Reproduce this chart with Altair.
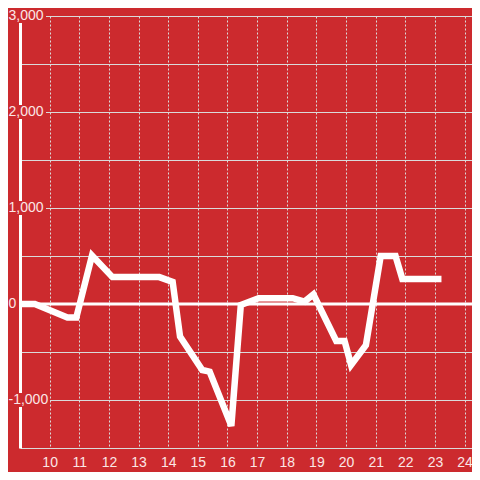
import altair as alt
import pandas as pd

# line data (hour of day, value)
hours = [9.0, 9.5, 10.6, 10.9, 11.43, 12.12, 13.7, 14.15, 14.4, 15.15, 15.4, 16.13,
         16.45, 17.05, 18.2, 18.6, 18.9, 19.67, 19.95, 20.17, 20.67, 21.17, 21.67,
         21.9, 23.22]
values = [0, 0, -140, -140, 505, 280, 280, 230, -340, -688, -705, -1270,
          -10, 60, 60, 25, 100, -385, -385, -635, -430, 500, 500,
          260, 260]

x_ticks = list(range(10, 25))
y_grid = list(range(-1500, 3001, 500))
y_label_values = [-1000, 0, 1000, 2000, 3000]
y_label_texts = ["-1,000", "0", "1,000", "2,000", "3,000"]

BG = "#cc2a2e"
GRID = "#dadada"
LABEL = "#fbe6e6"
FONT = "Liberation Sans"

line_df = pd.DataFrame({"hour": hours, "value": values})
lab_df = pd.DataFrame({"v": y_label_values, "lab": y_label_texts})

xscale = alt.Scale(domain=[9, 24.25], nice=False, zero=False)
yscale = alt.Scale(domain=[-1500, 3000], nice=False, zero=False)

y_axis = alt.Axis(values=y_grid, grid=True, gridColor=GRID, gridWidth=1,
                  labels=False, ticks=False, domain=True, domainColor="white",
                  domainWidth=3, title=None)

base_line = alt.Chart(line_df).mark_line(
    color="white", strokeWidth=6.5, strokeJoin="miter", strokeCap="butt"
).encode(
    x=alt.X("hour:Q", scale=xscale,
            axis=alt.Axis(values=x_ticks, grid=True, gridDash=[2, 2], gridColor=GRID,
                          gridWidth=1, ticks=False, domain=False, labelPadding=7,
                          labelFontSize=14, labelColor=LABEL, labelFont=FONT,
                          title=None, labelFlush=False)),
    y=alt.Y("value:Q", scale=yscale, axis=y_axis),
)

zero_rule = alt.Chart(pd.DataFrame({"z": [0]})).mark_rule(
    color="white", strokeWidth=3
).encode(y=alt.Y("z:Q", scale=yscale, axis=y_axis))

def mask(filter_expr, x1, x2):
    return alt.Chart(lab_df).transform_filter(filter_expr).mark_rect(
        color=BG, yOffset=-7, y2Offset=7
    ).encode(
        y=alt.Y("v:Q", scale=yscale, axis=y_axis),
        y2="v:Q",
        x=alt.value(x1),
        x2=alt.value(x2),
    )

mask_zero = mask("datum.v == 0", -14, -2)
mask_pos = mask("datum.v > 0", -14, 26)
mask_neg = mask("datum.v < 0", -14, 30)

labels = alt.Chart(lab_df).mark_text(
    align="left", baseline="middle", fontSize=14, font=FONT, color=LABEL
).encode(
    x=alt.value(-11.5),
    y=alt.Y("v:Q", scale=yscale, axis=y_axis),
    text="lab:N",
)

chart = alt.layer(base_line, zero_rule, mask_zero, mask_pos, mask_neg, labels).properties(
    width=452, height=432,
    padding={"left": 12, "top": 8, "right": 0, "bottom": 24},
    autosize=alt.AutoSizeParams(type="none"),
    background=BG,
).configure_view(stroke=None)

chart.save("out.html", embed_options={"renderer": "svg", "actions": False})
